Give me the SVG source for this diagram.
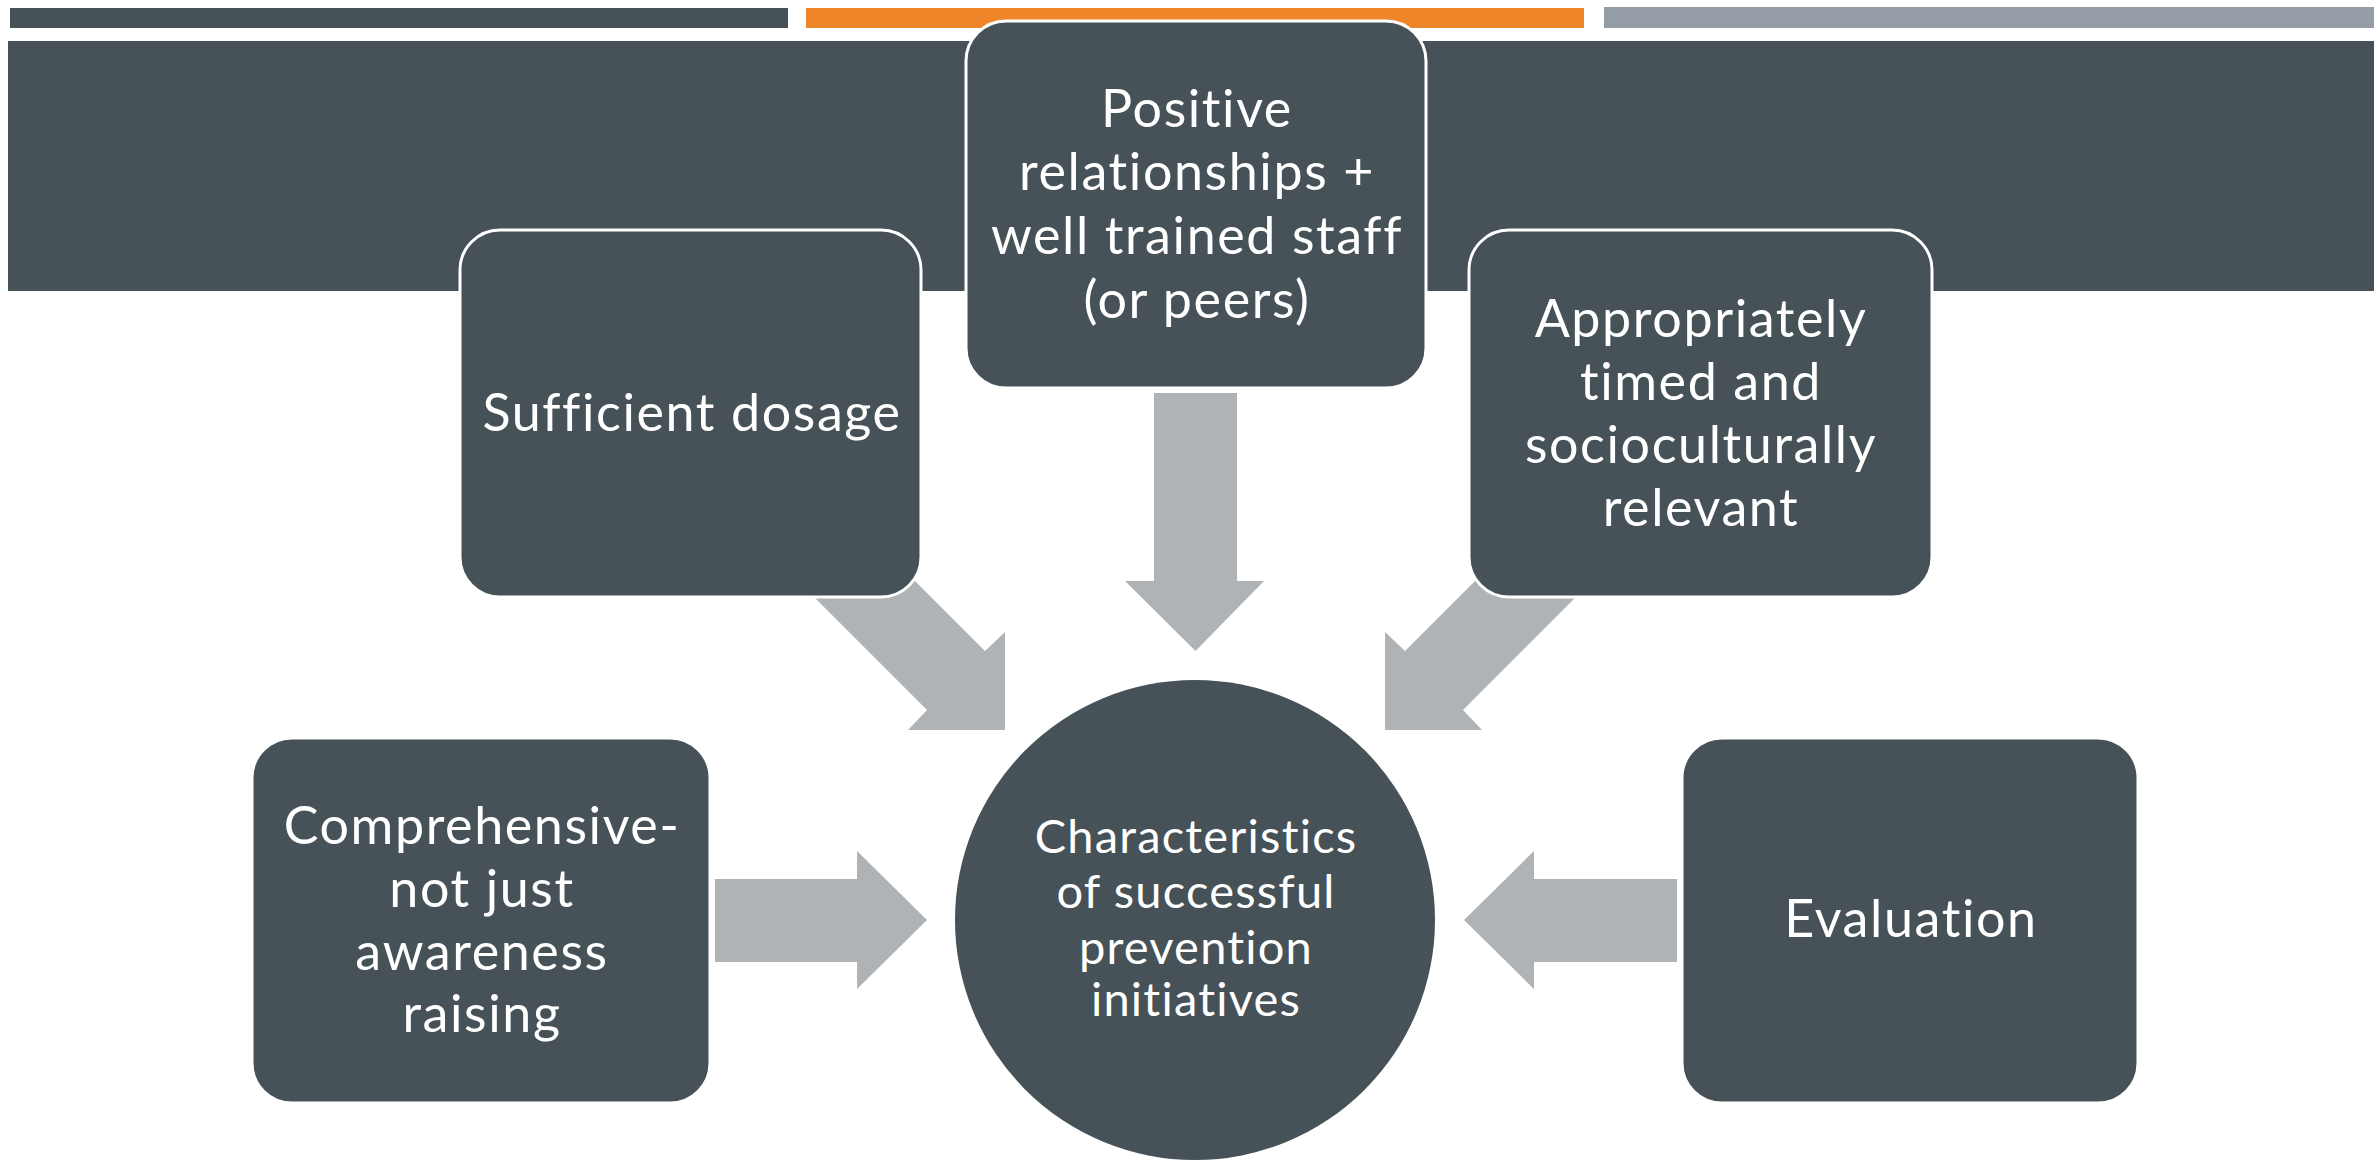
<svg xmlns="http://www.w3.org/2000/svg" width="2374" height="1161" viewBox="0 0 2374 1161">
<style>
.dark{fill:#465258}
.box{fill:#465258;stroke:#ffffff;stroke-width:3}
.arrow{fill:#B0B3B5}
.t{font-family:Lato,"Open Sans","Liberation Sans",sans-serif;fill:#ffffff;text-anchor:middle;font-size:52px;letter-spacing:1.6px}
.c{font-size:47px;letter-spacing:1.2px}
</style>
<rect width="2374" height="1161" fill="#ffffff"/>
<g id="header">
<rect x="10" y="8" width="778" height="20" fill="#465258"/>
<rect x="806" y="8" width="778" height="20" fill="#EE8529"/>
<rect x="1604" y="7" width="770" height="21" fill="#959DA6"/>
<rect x="8" y="41" width="2366" height="250" class="dark"/>
</g>
<g id="connectors">
<polygon class="arrow" points="777,560 894,560 985,651 1005,632 1005,730 908,730 927,710"/>
<polygon class="arrow" points="1613,560 1496,560 1405,651 1385,632 1385,730 1482,730 1463,710"/>
<polygon class="arrow" points="1154,393 1237,393 1237,581 1264,581 1195.5,651 1125,581 1154,581"/>
<polygon class="arrow" points="715,879 857,879 857,851 927,920 857,989 857,962 715,962"/>
<polygon class="arrow" points="1677,879 1534,879 1534,851 1464,920 1534,989 1534,962 1677,962"/>
</g>
<g id="node-positive">
<rect class="box" x="966" y="21" width="460" height="367" rx="40"/>
<text class="t" x="1197" y="127">Positive</text>
<text class="t" x="1197" y="190">relationships +</text>
<text class="t" x="1197" y="254">well trained staff</text>
<text class="t" x="1197" y="318">(or peers)</text>
</g>
<g id="node-sufficient">
<rect class="box" x="460" y="230" width="461" height="367" rx="40"/>
<text class="t" x="692" y="431">Sufficient dosage</text>
</g>
<g id="node-appropriately">
<rect class="box" x="1469" y="230" width="463" height="367" rx="40"/>
<text class="t" x="1701" y="337">Appropriately</text>
<text class="t" x="1701" y="400">timed and</text>
<text class="t" x="1701" y="463">socioculturally</text>
<text class="t" x="1701" y="526">relevant</text>
</g>
<g id="node-comprehensive">
<rect class="box" x="252" y="738" width="458" height="365" rx="40"/>
<text class="t" x="482" y="844">Comprehensive-</text>
<text class="t" x="482" y="907">not just</text>
<text class="t" x="482" y="970">awareness</text>
<text class="t" x="482" y="1032">raising</text>
</g>
<g id="node-evaluation">
<rect class="box" x="1682" y="738" width="456" height="365" rx="40"/>
<text class="t" x="1911" y="937">Evaluation</text>
</g>
<g id="node-center">
<circle class="dark" cx="1195" cy="920" r="240"/>
<text class="t c" x="1196" y="853">Characteristics</text>
<text class="t c" x="1196" y="908">of successful</text>
<text class="t c" x="1196" y="964">prevention</text>
<text class="t c" x="1196" y="1016">initiatives</text>
</g>
</svg>
